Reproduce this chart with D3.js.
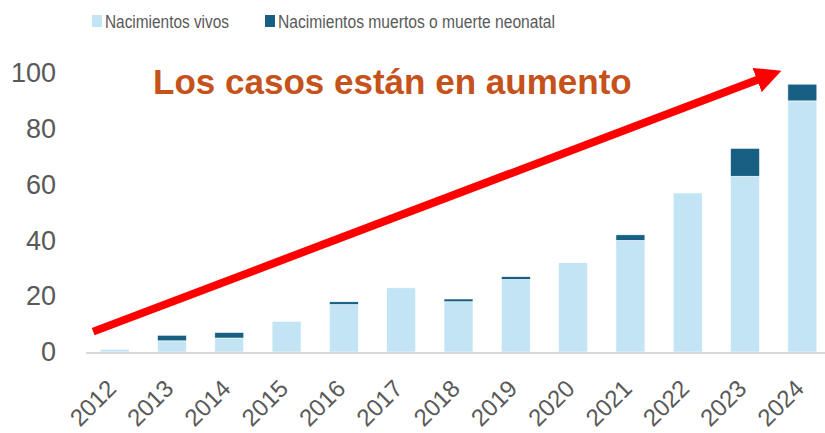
<!DOCTYPE html>
<html>
<head>
<meta charset="utf-8">
<script src="https://cdn.jsdelivr.net/npm/d3@7"></script>
<style>
  body { margin: 0; background: #fff; }
  text { font-family: "Liberation Sans", Arial, sans-serif; }
</style>
</head>
<body>
<div id="chart"></div>
<script>
const years = ["2012", "2013", "2014", "2015", "2016", "2017", "2018", "2019", "2020", "2021", "2022", "2023", "2024"];
const liveBirths = [1, 4, 5, 11, 17, 23, 18, 26, 32, 40, 57, 63, 90];
const stillOrNeonatal = [0, 2, 2, 0, 1, 0, 1, 1, 0, 2, 0, 10, 6];
const yTicks = [0, 20, 40, 60, 80, 100];
const seriesNames = ["Nacimientos vivos", "Nacimientos muertos o muerte neonatal"];
const colors = ["#c2e4f5", "#185f84"];
const headline = "Los casos están en aumento";

const width = 825, height = 433;

const svg = d3.select("#chart").append("svg")
  .attr("width", width)
  .attr("height", height);

const x = d3.scaleBand().domain(years).range([86, 831]).paddingInner(0.494).paddingOuter(0.247);
const y = d3.scaleLinear().domain([0, 100]).range([352, 73]);

const rows = years.map((yr, i) => ({ year: yr, live: liveBirths[i], dead: stillOrNeonatal[i] }));
const stacked = d3.stack().keys(["live", "dead"])(rows);

// bars
svg.append("g")
  .selectAll("g")
  .data(stacked)
  .join("g")
  .attr("fill", (d, i) => colors[i])
  .selectAll("rect")
  .data((d) => d.filter((p) => p[1] > p[0]))
  .join("rect")
  .attr("x", (d) => x(d.data.year))
  .attr("width", x.bandwidth())
  .attr("y", (d) => y(d[1]))
  .attr("height", (d) => y(d[0]) - y(d[1]))
  .attr("stroke", "#fff")
  .attr("stroke-width", 0.6);

// baseline
svg.append("line")
  .attr("x1", 86).attr("x2", width)
  .attr("y1", y(0) + 1).attr("y2", y(0) + 1)
  .attr("stroke", "#d9d9d9")
  .attr("stroke-width", 2);

// y axis labels
const yAxis = svg.append("g")
  .attr("transform", "translate(56,0)")
  .call(d3.axisLeft(y).tickValues(yTicks).tickSize(0).tickPadding(0));
yAxis.select(".domain").remove();
yAxis.selectAll("text")
  .attr("fill", "#595959")
  .style("font-size", "27px");

// x axis labels
const xAxis = svg.append("g")
  .attr("transform", `translate(0,${y(0)})`)
  .call(d3.axisBottom(x).tickSize(0).tickPadding(0));
xAxis.select(".domain").remove();
xAxis.selectAll("text")
  .attr("fill", "#595959")
  .style("font-size", "24px")
  .attr("text-anchor", "end")
  .attr("dy", 0)
  .attr("y", 0)
  .attr("transform", "translate(3,38) rotate(-45)");

// trend arrow
svg.append("defs").append("marker")
  .attr("id", "head")
  .attr("markerUnits", "userSpaceOnUse")
  .attr("viewBox", "0 0 26 26")
  .attr("refX", 4).attr("refY", 13)
  .attr("markerWidth", 26).attr("markerHeight", 26)
  .attr("orient", "auto")
  .append("path")
  .attr("d", "M0,0 L26,13 L0,26 Z")
  .attr("fill", "#ff0000");

svg.append("line")
  .attr("x1", x("2012") - 7).attr("y1", y(7.3))
  .attr("x2", x("2024") - 27).attr("y2", y(98))
  .attr("stroke", "#ff0000")
  .attr("stroke-width", 8)
  .attr("marker-end", "url(#head)");

// headline
const title = svg.append("text")
  .attr("x", 153).attr("y", 94)
  .attr("fill", "#c4521a")
  .style("font-weight", "bold")
  .style("font-size", "33px")
  .text(headline);
const tw = title.node().getComputedTextLength();
title.style("font-size", (33 * 479 / tw) + "px");

// legend
const legendX = [92, 265];
const legendTextWidth = [124, 277];
const legend = svg.append("g")
  .selectAll("g")
  .data(seriesNames)
  .join("g")
  .attr("transform", (d, i) => `translate(${legendX[i]},0)`);
legend.append("rect")
  .attr("x", 0).attr("y", 15)
  .attr("width", 10).attr("height", 12)
  .attr("fill", (d, i) => colors[i]);
legend.append("text")
  .attr("x", 13).attr("y", 27.5)
  .attr("fill", "#595959")
  .style("font-size", "17.5px")
  .attr("textLength", (d, i) => legendTextWidth[i])
  .attr("lengthAdjust", "spacingAndGlyphs")
  .text((d) => d);
</script>
</body>
</html>
